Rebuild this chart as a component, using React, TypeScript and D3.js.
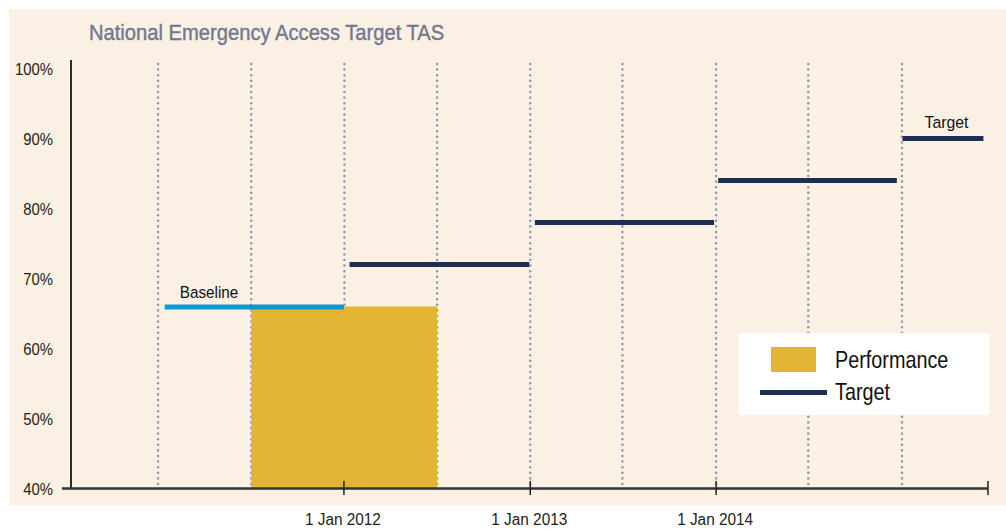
import React from "react";
import * as d3 from "d3";

const title = "National Emergency Access Target TAS";
const yTicks = [40, 50, 60, 70, 80, 90, 100];
const xTickDates = ["2012-01-01", "2013-01-01", "2014-01-01"];
const xTickLabels = ["1 Jan 2012", "1 Jan 2013", "1 Jan 2014"];
const gridDates = [
  "2011-01-01", "2011-07-03", "2012-01-02", "2012-07-02", "2013-01-01",
  "2013-07-01", "2014-01-01", "2014-07-01", "2015-01-01",
];
const domainDates = ["2010-07-14", "2015-06-17"];
// Performance bar
const performance = [{ start: "2011-07-03", end: "2012-07-02", value: 66 }];
// Baseline segment
const baseline = [{ start: "2011-01-14", end: "2012-01-01", value: 66 }];
// Target segments
const targetStarts = ["2012-01-12", "2013-01-10", "2014-01-05", "2015-01-02"];
const targetEnds = ["2012-12-30", "2013-12-28", "2014-12-22", "2015-06-10"];
const targetValues = [72, 78, 84, 90];

const FONT = "'Liberation Sans', Arial, sans-serif";

function Txt(props: { x: number; y: number; sx: number; size: number; fill: string; anchor?: string; stroke?: number; children: React.ReactNode }) {
  return (
    <g transform={`translate(${props.x},${props.y}) scale(${props.sx},1)`}>
      <text x={0} y={0} fontSize={props.size} fill={props.fill} textAnchor={props.anchor || "start"} fontFamily={FONT}
        stroke={props.stroke ? props.fill : "none"} strokeWidth={props.stroke || 0}>
        {props.children}
      </text>
    </g>
  );
}

export default function App() {
  const parse = (s: string) => new Date(s + "T00:00:00Z");
  const x = d3.scaleUtc().domain(domainDates.map(parse)).range([71, 987]);
  const y = d3.scaleLinear().domain([40, 100]).range([488.5, 68.5]);
  const navy = "#1e2e52";
  const targets = targetValues.map((v, i) => ({ start: targetStarts[i], end: targetEnds[i], value: v }));
  const lastT = targets[targets.length - 1];
  const base = baseline[0];

  return (
    <svg width={1006} height={529} style={{ position: "absolute", left: 0, top: 0, fontFamily: FONT }}>
      <rect x={0} y={0} width={1006} height={529} fill="#ffffff" />
      <rect x={9} y={9} width={997} height={496} fill="#faf1e4" />
      <Txt x={89} y={40} sx={0.917} size={22} fill="#737790" stroke={0.4}>{title}</Txt>

      {/* grid lines */}
      {gridDates.map((d) => (
        <line key={d} x1={x(parse(d))} x2={x(parse(d))} y1={64} y2={487}
          stroke="#9497b0" strokeWidth={2.6} strokeDasharray="0 5.6" strokeLinecap="round" />
      ))}

      {/* performance bars */}
      {performance.map((p, i) => (
        <rect key={i} x={x(parse(p.start))} y={y(p.value)}
          width={x(parse(p.end)) - x(parse(p.start))} height={y(40) - y(p.value)} fill="#e3b535" />
      ))}

      {/* baseline */}
      {baseline.map((b, i) => (
        <line key={i} x1={x(parse(b.start))} x2={x(parse(b.end))} y1={y(b.value) + 0.5} y2={y(b.value) + 0.5}
          stroke="#0f98d0" strokeWidth={5} />
      ))}
      <Txt x={x(parse(base.start)) + 15} y={y(base.value) - 9} sx={0.9} size={17} fill="#111">Baseline</Txt>

      {/* targets */}
      {targets.map((t, i) => (
        <line key={i} x1={x(parse(t.start))} x2={x(parse(t.end))} y1={y(t.value)} y2={y(t.value)}
          stroke={navy} strokeWidth={5} />
      ))}
      <Txt x={x(parse(lastT.start)) + 22} y={y(lastT.value) - 11} sx={0.93} size={17} fill="#111">Target</Txt>

      {/* axes */}
      <line x1={71} x2={71} y1={60} y2={489} stroke="#2a2a2a" strokeWidth={2} />
      <line x1={62} x2={988} y1={488.5} y2={488.5} stroke="#333" strokeWidth={2.5} />
      {xTickDates.map((d) => (
        <line key={d} x1={x(parse(d))} x2={x(parse(d))} y1={481} y2={495} stroke="#222" strokeWidth={1.5} />
      ))}
      <line x1={988} x2={988} y1={481} y2={495} stroke="#222" strokeWidth={1.5} />

      {yTicks.map((t) => (
        <Txt key={t} x={53} y={y(t) + 6} sx={0.93} size={16} anchor="end" fill="#222">{t}%</Txt>
      ))}
      {xTickDates.map((d, i) => (
        <Txt key={d} x={x(parse(d)) - 1} y={525} sx={0.96} size={16} anchor="middle" fill="#222">{xTickLabels[i]}</Txt>
      ))}

      {/* legend */}
      <rect x={739} y={333} width={250} height={82} fill="#ffffff" />
      <rect x={771} y={347} width={45} height={25} fill="#e3b535" />
      <Txt x={835} y={368} sx={0.825} size={24} fill="#111">Performance</Txt>
      <line x1={760} x2={827} y1={392.5} y2={392.5} stroke={navy} strokeWidth={5} />
      <Txt x={835} y={400} sx={0.825} size={24} fill="#111">Target</Txt>
    </svg>
  );
}
